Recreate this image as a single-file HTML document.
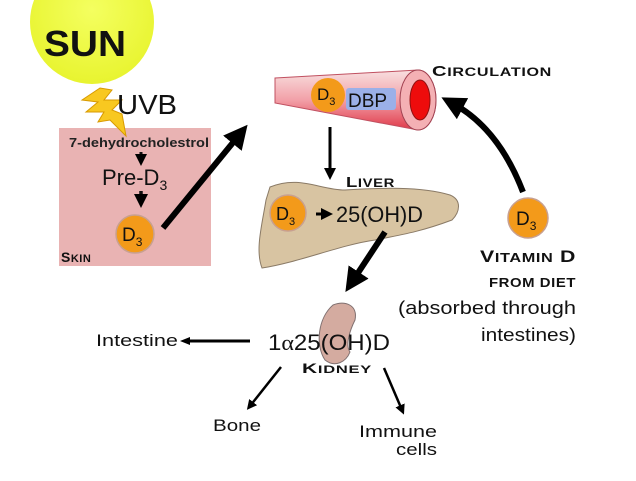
<!DOCTYPE html>
<html><head><meta charset="utf-8"><style>
html,body{margin:0;padding:0;background:#fff}
svg{display:block;font-family:"Liberation Sans",sans-serif}
.sc{font-weight:bold;letter-spacing:0.5px}
</style></head><body>
<svg width="636" height="481" viewBox="0 0 636 481">
<defs>
<radialGradient id="sun" cx="0.5" cy="0.4" r="0.6"><stop offset="0" stop-color="#f4ff60"/><stop offset="1" stop-color="#e8f430"/></radialGradient>
<linearGradient id="ves" x1="0" y1="0" x2="0" y2="1"><stop offset="0" stop-color="#f8e0e0"/><stop offset="0.5" stop-color="#f2a0a8"/><stop offset="1" stop-color="#e03848"/></linearGradient>
<marker id="ah" markerWidth="4" markerHeight="4" refX="2" refY="2" orient="auto" markerUnits="strokeWidth"><path d="M0,0 L4,2 L0,4 z" fill="#000"/></marker>
<marker id="sh" markerWidth="8" markerHeight="8" refX="1" refY="4" orient="auto" markerUnits="userSpaceOnUse"><path d="M8,0 L0,4 L8,8 z" fill="#000" transform="rotate(180 4 4)"/></marker>
</defs>
<!-- sun -->
<circle cx="92" cy="22" r="62" fill="url(#sun)"/>
<text x="44" y="56" font-size="36" font-weight="bold" fill="#111" textLength="82" lengthAdjust="spacingAndGlyphs">SUN</text>
<!-- skin -->
<rect x="59" y="128" width="152" height="138" fill="#e9b3b3"/>
<path d="M82,100 L100,88 L112,90 L104,100 L122,100 L112,110 L122,114 L126,136 L110,120 L98,122 L104,112 L86,112 L98,102 z" fill="#f8c820" stroke="#d89a00" stroke-width="1"/>
<text x="117" y="114" font-size="28" fill="#111" textLength="60" lengthAdjust="spacingAndGlyphs">UVB</text>
<text x="69" y="147" font-size="12.5" font-weight="bold" fill="#222" textLength="140" lengthAdjust="spacingAndGlyphs">7-dehydrocholestrol</text>
<line x1="141" y1="152" x2="141" y2="160" stroke="#111" stroke-width="3" marker-end="url(#ah)"/>
<text x="102" y="185" font-size="22" fill="#111">Pre-D<tspan font-size="14" dy="5">3</tspan></text>
<line x1="141" y1="191" x2="141" y2="201" stroke="#111" stroke-width="3.5" marker-end="url(#ah)"/>
<circle cx="135" cy="234" r="19" fill="#f39a1a" stroke="#c8a090" stroke-width="1.5"/>
<text x="122" y="241" font-size="19" fill="#111">D<tspan font-size="12" dy="5">3</tspan></text>
<text x="61" y="262" font-size="14" class="sc" fill="#111">S<tspan font-size="11">KIN</tspan></text>
<line x1="163" y1="228" x2="240" y2="134" stroke="#000" stroke-width="6" marker-end="url(#ah)"/>
<!-- vessel -->
<path d="M275,78 L418,70 A18,30 0 0 1 418,130 L275,103 z" fill="url(#ves)" stroke="#c05060" stroke-width="1"/>
<ellipse cx="418" cy="100" rx="18" ry="30" fill="#f4b0b4" stroke="#a04050" stroke-width="1"/>
<ellipse cx="420" cy="100" rx="10" ry="20" fill="#ee0c0c" stroke="#901010" stroke-width="1"/>
<rect x="346" y="88" width="50" height="22" rx="3" fill="#9bb0e8"/>
<circle cx="328" cy="95" r="17" fill="#f39a1a"/>
<text x="317" y="100" font-size="17" fill="#111">D<tspan font-size="11" dy="5">3</tspan></text>
<text x="348" y="107" font-size="19" fill="#111">DBP</text>
<text x="432" y="76" font-size="15" class="sc" fill="#111" textLength="120" lengthAdjust="spacingAndGlyphs">C<tspan font-size="12">IRCULATION</tspan></text>
<line x1="330" y1="127" x2="330" y2="174" stroke="#000" stroke-width="3" marker-end="url(#ah)"/>
<text x="346" y="187" font-size="15" class="sc" fill="#111" textLength="49" lengthAdjust="spacingAndGlyphs">L<tspan font-size="12">IVER</tspan></text>
<!-- liver -->
<path d="M270,187 C300,175 320,190 345,190 C380,188 420,186 450,195 C462,200 460,212 452,220 C420,232 400,235 375,240 C340,245 300,262 262,268 C255,250 262,225 266,200 z" fill="#d8c4a2" stroke="#8a7a66" stroke-width="1"/>
<circle cx="288" cy="213" r="18" fill="#f39a1a" stroke="#c8a090" stroke-width="1.5"/>
<text x="276" y="220" font-size="18" fill="#111">D<tspan font-size="11" dy="5">3</tspan></text>
<line x1="316" y1="214" x2="327" y2="214" stroke="#000" stroke-width="3" marker-end="url(#ah)"/>
<text x="336" y="222" font-size="22" fill="#111" textLength="87" lengthAdjust="spacingAndGlyphs">25(OH)D</text>
<line x1="385" y1="232" x2="352" y2="282" stroke="#000" stroke-width="6" marker-end="url(#ah)"/>
<!-- kidney -->
<path d="M333,305 C345,300 358,305 355,320 C350,330 345,345 350,352 C346,362 335,368 325,360 C315,345 318,318 333,305 z" fill="#d4aba0" stroke="#807070" stroke-width="1"/>
<text x="268" y="350" font-size="22" fill="#111" textLength="122" lengthAdjust="spacingAndGlyphs">1<tspan font-family="Liberation Serif">α</tspan>25(OH)D</text>
<text x="302" y="373" font-size="14" class="sc" fill="#111" textLength="70" lengthAdjust="spacingAndGlyphs">K<tspan font-size="11">IDNEY</tspan></text>
<line x1="250" y1="341" x2="188" y2="341" stroke="#000" stroke-width="3"/>
<path d="M180,341 L190,337 L190,345 z" fill="#000"/>
<text x="96" y="346" font-size="17" fill="#111" textLength="82" lengthAdjust="spacingAndGlyphs">Intestine</text>
<line x1="281" y1="367" x2="250" y2="406" stroke="#000" stroke-width="2.5" marker-end="url(#ah)"/>
<text x="213" y="431" font-size="17" fill="#111" textLength="48" lengthAdjust="spacingAndGlyphs">Bone</text>
<line x1="384" y1="368" x2="402" y2="410" stroke="#000" stroke-width="2.5" marker-end="url(#ah)"/>
<text x="359" y="437" font-size="17" fill="#111" textLength="78" lengthAdjust="spacingAndGlyphs">Immune</text>
<text x="396" y="455" font-size="17" fill="#111" textLength="41" lengthAdjust="spacingAndGlyphs">cells</text>
<!-- diet -->
<path d="M523,192 C505,145 480,118 452,103" fill="none" stroke="#000" stroke-width="6" marker-end="url(#ah)"/>
<circle cx="528" cy="218" r="20" fill="#f39a1a" stroke="#c8a090" stroke-width="1.5"/>
<text x="516" y="225" font-size="19" fill="#111">D<tspan font-size="12" dy="5">3</tspan></text>
<text x="480" y="262" font-size="17" class="sc" fill="#111" textLength="96" lengthAdjust="spacingAndGlyphs">V<tspan font-size="13">ITAMIN</tspan> D</text>
<text x="489" y="287" font-size="13" class="sc" fill="#111" textLength="87" lengthAdjust="spacingAndGlyphs">FROM DIET</text>
<text x="398" y="314" font-size="18" fill="#111" textLength="178" lengthAdjust="spacingAndGlyphs">(absorbed through</text>
<text x="481" y="341" font-size="18" fill="#111" textLength="95" lengthAdjust="spacingAndGlyphs">intestines)</text>
</svg>
</body></html>
